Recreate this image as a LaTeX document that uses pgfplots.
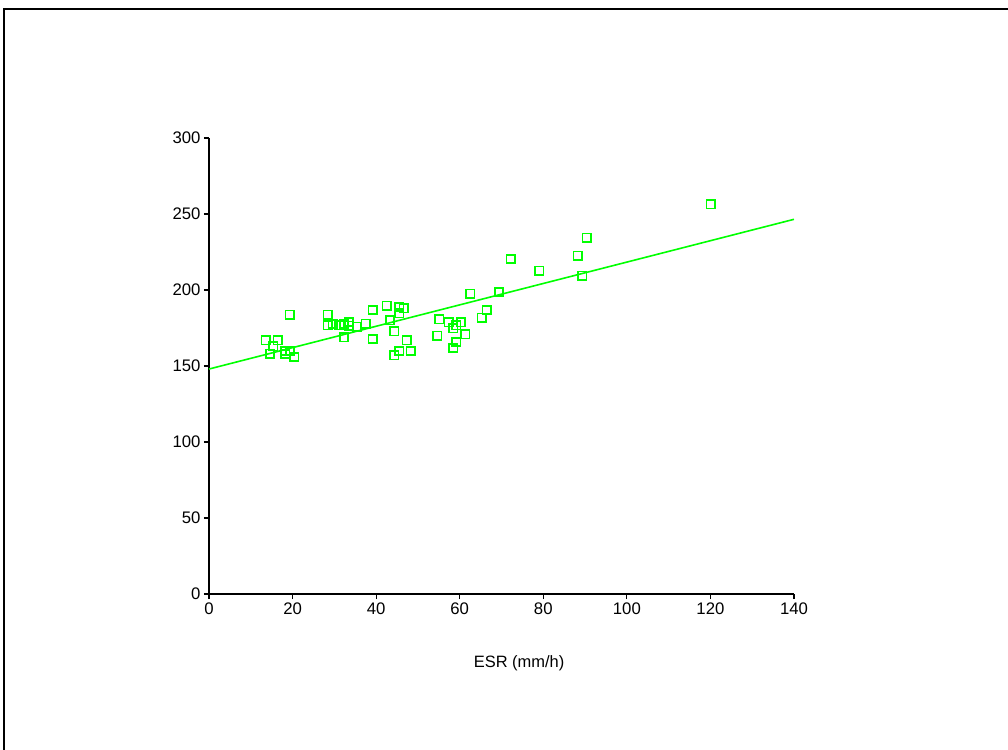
\documentclass[border=0pt]{standalone}
\usepackage{pgfplots}
\pgfplotsset{compat=1.18}
\usepackage{fontspec}
\setmainfont{Liberation Sans}
\definecolor{sgreen}{RGB}{0,255,0}
\begin{document}
\begin{tikzpicture}
\useasboundingbox[fill=white] (-209bp,-156bp) rectangle (799bp,594bp);
\draw[line width=2bp, line cap=rect] (-205bp,-156bp) -- (-205bp,585bp) -- (799bp,585bp);
\begin{axis}[at={(0,0)}, anchor=south west, scale only axis,
  width=585bp, height=456bp,
  xmin=0, xmax=140, ymin=0, ymax=300,
  axis x line*=bottom, axis y line*=left,
  axis line style={-, line width=1.3bp, black},
  xtick={0,20,...,140}, ytick={0,50,...,300},
  tick align=outside, major tick length=5bp,
  tick style={black, line width=1.1bp},
  ticklabel style={font=\fontsize{16.8}{18}\selectfont},
  /pgf/number format/assume math mode=true,
  xlabel={ESR (mm/h)},
  xlabel style={font=\fontsize{16.5}{18}\selectfont, at={(axis description cs:0.53,0)}, anchor=center, yshift=-69bp},
  clip=false,
]
\addplot[sgreen, line width=1.6bp] coordinates {(0,148) (140,246.5)};
\addplot[only marks, mark=square, mark size=4.2bp, sgreen, mark options={line width=1.6bp}] table {
x y
13.6 166.9
16.4 166.9
15.4 163.0
14.6 158.1
18.3 159.9
18.3 157.9
19.4 159.9
20.4 155.9
19.3 183.8
28.4 183.8
28.4 176.8
29.6 177.6
31.2 176.8
32.3 177.6
33.5 178.9
33.5 176.5
32.3 168.9
35.3 175.9
37.5 177.8
39.2 186.8
39.2 167.8
42.5 189.7
43.3 180.1
44.3 172.8
44.3 157.0
45.5 188.8
46.6 188.0
45.5 184.7
45.5 159.9
47.3 166.9
48.3 159.9
54.6 169.9
55.1 180.7
57.4 178.8
58.5 174.8
59.2 176.8
60.3 178.8
58.5 161.8
59.2 165.8
61.3 170.9
62.5 197.6
65.3 181.8
66.5 186.8
69.4 198.7
72.2 220.4
79.0 212.7
88.2 222.6
89.3 209.4
90.4 234.4
120.1 256.4
};
\end{axis}
\end{tikzpicture}
\end{document}
